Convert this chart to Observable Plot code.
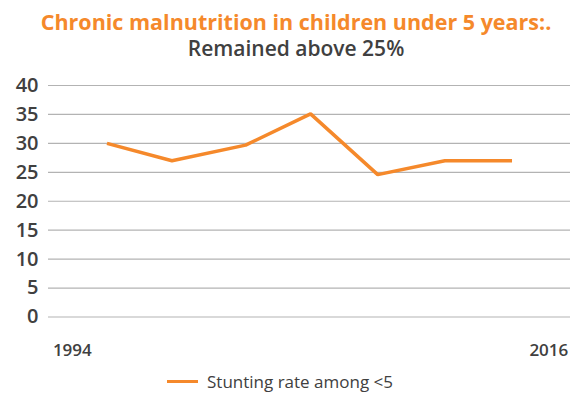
<!DOCTYPE html>
<html>
<head>
<meta charset="utf-8">
<script src="https://cdn.jsdelivr.net/npm/d3@7"></script>
<script src="https://cdn.jsdelivr.net/npm/@observablehq/plot@0.6"></script>
<style>
  html, body { margin: 0; padding: 0; background: #fff; }
  body { width: 570px; height: 394px; overflow: hidden; font-family: "Open Sans", sans-serif; }
  .title { text-align: center; color: #F5892B; font-weight: 700; font-size: 21.5px; line-height: 27px; margin-top: 8px; padding-left: 22px; white-space: nowrap; }
  .subtitle { text-align: center; color: #404040; font-weight: 600; font-size: 21px; line-height: 27px; padding-left: 22px; }
  #chart { height: 306px; }
  .legend { display: flex; align-items: center; justify-content: center; gap: 9px; color: #404040; font-size: 17px; height: 26px; margin-left: -10px; }
  .legend .sw { width: 31px; height: 3px; background: #F5892B; }
</style>
</head>
<body>
<div class="title">Chronic malnutrition in children under 5 years:.</div>
<div class="subtitle">Remained above 25%</div>
<div id="chart"></div>
<div class="legend"><span class="sw"></span><span>Stunting rate among &lt;5</span></div>
<script>
const years = [1995.6, 1998.6, 2002, 2005, 2008.1, 2011.2, 2014.3];
const stunting = [30, 27, 29.7, 35.1, 24.6, 27, 27];
const yTicks = [0, 5, 10, 15, 20, 25, 30, 35, 40];
const xTickLabels = [1994, 2016];
const seriesName = "Stunting rate among <5";

const data = years.map((y, i) => ({year: y, value: stunting[i], series: seriesName}));

const chart = Plot.plot({
  width: 570,
  height: 306,
  marginTop: 23,
  marginBottom: 51.5,
  marginLeft: 48,
  marginRight: 0,
  style: { fontFamily: "Open Sans, sans-serif", color: "#404040", background: "transparent" },
  x: { domain: [1992.9, 2017], axis: null },
  y: { domain: [0, 40], axis: null },
  marks: [
    Plot.gridY(yTicks, { stroke: "#b3b3b3", strokeOpacity: 1, strokeWidth: 1.2 }),
    Plot.axisY(yTicks, { tickSize: 0, tickPadding: 10, fontSize: 20, fontWeight: 600, fill: "#404040", label: null }),
    Plot.axisX(xTickLabels, { tickSize: 0, tickPadding: 27, fontSize: 17, fontWeight: 600, fill: "#404040", label: null, tickFormat: d => String(d) }),
    Plot.line(data, { x: "year", y: "value", stroke: "#F5892B", strokeWidth: 3.5, strokeLinejoin: "miter", strokeLinecap: "butt" })
  ]
});
document.getElementById("chart").appendChild(chart);
</script>
</body>
</html>
